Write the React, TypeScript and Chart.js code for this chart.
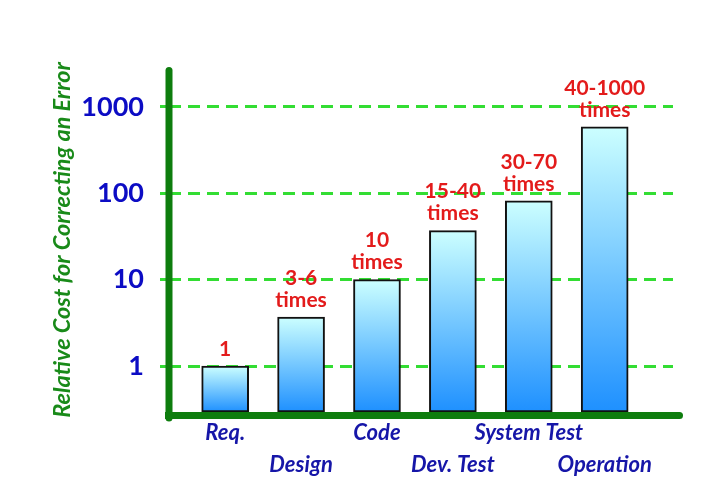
import React, { useEffect, useRef } from "react";
import { Chart, registerables } from "chart.js";

Chart.register(...registerables);

const categories = ["Req.", "Design", "Code", "Dev. Test", "System Test", "Operation"];
const costs = [1, 3.7, 10, 37, 82, 590];
const valueLabels = [
  ["1"],
  ["3-6", "times"],
  ["10", "times"],
  ["15-40", "times"],
  ["30-70", "times"],
  ["40-1000", "times"],
];
const yTicks = [1, 10, 100, 1000];
const yTitle = "Relative Cost for Correcting an Error";

const FONT = "Lato, 'Open Sans', sans-serif";

export default function App() {
  const ref = useRef<HTMLCanvasElement | null>(null);

  useEffect(() => {
    const canvas = ref.current;
    if (!canvas) return;

    const overlay = {
      id: "overlay",
      afterDraw(chart: any) {
        const ctx = chart.ctx;
        const a = chart.chartArea;
        ctx.save();
        ctx.setLineDash([]);
        // axes
        ctx.strokeStyle = "#0e7d0e";
        ctx.lineWidth = 7;
        ctx.lineCap = "round";
        ctx.beginPath();
        ctx.moveTo(a.left, a.top + 2.5);
        ctx.lineTo(a.left, a.bottom + 6);
        ctx.stroke();
        ctx.lineCap = "butt";
        ctx.beginPath();
        ctx.moveTo(a.left - 4, a.bottom + 3.5);
        ctx.lineTo(a.right + 6.5, a.bottom + 3.5);
        ctx.stroke();
        ctx.lineCap = "round";
        ctx.beginPath();
        ctx.moveTo(a.right + 6, a.bottom + 3.5);
        ctx.lineTo(a.right + 6.5, a.bottom + 3.5);
        ctx.stroke();
        // value labels
        const meta = chart.getDatasetMeta(0);
        ctx.fillStyle = "#e31b1b";
        ctx.font = `bold 21px ${FONT}`;
        ctx.textAlign = "center";
        ctx.textBaseline = "middle";
        meta.data.forEach((bar: any, i: number) => {
          const lines = valueLabels[i];
          lines.forEach((t, j) => {
            const y = bar.y - 17 - (lines.length - 1 - j) * 22;
            ctx.fillText(t, bar.x, y);
          });
        });
        ctx.restore();
      },
    };

    const chart = new Chart(canvas, {
      type: "bar",
      data: {
        datasets: [
          {
            data: costs.map((v, i) => ({ x: i, y: v })),
            backgroundColor: (c: any) => {
              const ch = c.chart;
              const area = ch.chartArea;
              if (!area || c.type !== "data" || !c.parsed) return "#66bbff";
              const top = ch.scales.y.getPixelForValue(c.parsed.y);
              const g = ch.ctx.createLinearGradient(0, top, 0, area.bottom);
              g.addColorStop(0, "#ccffff");
              g.addColorStop(1, "#1e90ff");
              return g;
            },
            borderColor: "#111111",
            borderWidth: 2,
            borderSkipped: false,
            barThickness: 47,
          },
        ],
      },
      options: {
        responsive: false,
        animation: false,
        layout: { padding: { top: 68, right: 33, left: 0, bottom: 0 } },
        plugins: {
          legend: { display: false },
          tooltip: { enabled: false },
        },
        scales: {
          x: {
            type: "linear",
            min: -0.74,
            max: 5.9,
            offset: false,
            border: { display: false },
            grid: { display: false, drawTicks: false },
            afterBuildTicks: (s: any) => {
              s.ticks = categories.map((_, i) => ({ value: i }));
            },
            afterFit: (s: any) => {
              s.height = 78;
            },
            ticks: {
              autoSkip: false,
              maxRotation: 0,
              minRotation: 0,
              padding: 5,
              color: "#1616a8",
              font: { family: FONT, size: 22, weight: "bold", style: "italic", lineHeight: "32px" },
              callback: (v: any) => {
                const i = Math.round(Number(v));
                const lbl = categories[i] ?? "";
                return i % 2 === 0 ? [lbl, ""] : ["", lbl];
              },
            },
          },
          y: {
            type: "logarithmic",
            min: 0.294,
            max: 2825,
            z: 1,
            border: { display: false, dash: [12, 7] },
            afterBuildTicks: (s: any) => {
              s.ticks = yTicks.map((v) => ({ value: v }));
            },
            afterFit: (s: any) => {
              s.width = 169;
            },
            grid: {
              color: "#33dd33",
              lineWidth: 3,
              borderDash: [12, 7],
              tickBorderDash: [12, 7],
              tickLength: 9,
              drawTicks: true,
            },
            ticks: {
              padding: 16,
              color: "#0c0cc4",
              font: { family: FONT, size: 27, weight: "bold" },
              callback: (v: any) => String(v),
            },
            title: {
              display: true,
              text: yTitle,
              color: "#198a19",
              font: { family: FONT, size: 23.5, weight: "bold", style: "italic" },
              padding: { top: 48, bottom: 0 },
            },
          },
        },
      },
      plugins: [overlay],
    } as any);

    return () => chart.destroy();
  }, []);

  return (
    <div style={{ position: "absolute", left: 0, top: 0, width: 706, height: 490, background: "#fff" }}>
      <canvas ref={ref} width={706} height={490} style={{ display: "block" }} />
    </div>
  );
}
